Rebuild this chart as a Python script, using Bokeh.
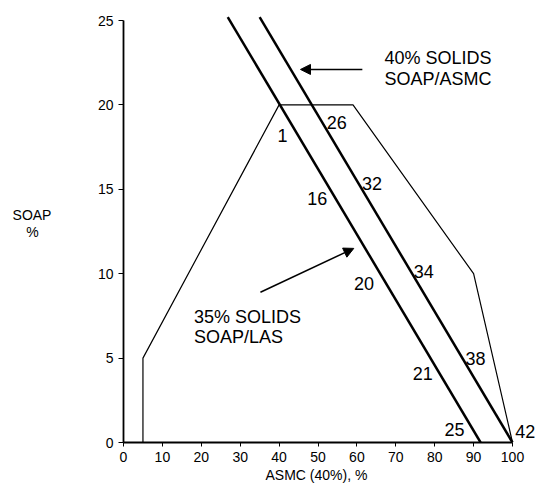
from bokeh.plotting import figure
from bokeh.layouts import row
from bokeh.models import Range1d, FixedTicker, Arrow, NormalHead, ColumnDataSource, Title
from bokeh.core.properties import value
from bokeh.embed import file_html
from bokeh.resources import INLINE

FONT = "Liberation Sans"

# Feasible region outline (ASMC %, SOAP %)
region_asmc = [5, 5, 40, 59, 90, 100]
region_soap = [0, 5, 20, 20, 10, 0]

# 35% solids SOAP/LAS line
las_asmc = [26.8, 91.8]
las_soap = [25.2, 0]

# 40% solids SOAP/ASMC line
asmc_asmc = [35.0, 100]
asmc_soap = [25.2, 0]

# point numbers along the lines
num_text = ["1", "16", "20", "21", "25", "26", "32", "34", "38", "42"]
num_x = [40.9, 49.8, 61.8, 76.9, 85.1, 54.8, 63.9, 77.2, 90.5, 103.3]
num_y = [18.2, 14.46, 9.4, 4.07, 0.75, 18.96, 15.36, 10.15, 5.0, 0.67]

# callout texts
call_text = ["40% SOLIDS", "SOAP/ASMC", "35% SOLIDS", "SOAP/LAS"]
call_x = [67.1, 67.1, 18.1, 18.1]
call_y = [22.8, 21.55, 7.46, 6.24]

# arrows (tail -> tip)
arrow_x0 = [61.4, 35.2]
arrow_y0 = [22.1, 8.9]
arrow_x1 = [45.5, 59.2]
arrow_y1 = [22.1, 11.5]

x_ticks = [0, 10, 20, 30, 40, 50, 60, 70, 80, 90, 100]
y_ticks = [0, 5, 10, 15, 20, 25]
x_title = "ASMC (40%), %"
y_title_lines = ["SOAP", "%"]

W, H = 536, 489
LW = 70                      # width of the y-title strip
LEFT, BOTTOM = 123, 47
XPU, YPU = 3.89, 16.88

yr = Range1d(0, (H - BOTTOM) / YPU)

# y-axis title strip (horizontal two-line title, centred lines), shares the SOAP scale
lab = figure(width=LW, height=H, output_backend="svg", toolbar_location=None,
             x_range=Range1d(0, LW), y_range=yr,
             min_border_left=0, min_border_right=0,
             min_border_top=0, min_border_bottom=BOTTOM)
lab.axis.visible = False
lab.grid.visible = False
lab.outline_line_color = None
lab.text(x=[31.5, 32], y=[13.5, 12.45], text=y_title_lines,
         text_font=value(FONT), text_font_size="14px", text_color="black",
         text_align="center", text_baseline="middle")

p = figure(width=W - LW, height=H, output_backend="svg", toolbar_location=None,
           x_range=Range1d(0, (W - LEFT) / XPU), y_range=yr,
           min_border_left=LEFT - LW, min_border_right=0, min_border_top=0,
           min_border_bottom=BOTTOM)
p.outline_line_color = None
p.grid.visible = False
p.background_fill_color = "white"

for ax, ticks, bnds in ((p.xaxis, x_ticks, (0, 100)), (p.yaxis, y_ticks, (0, 25))):
    ax.ticker = FixedTicker(ticks=ticks)
    ax.bounds = bnds
    ax.axis_line_color = "black"
    ax.axis_line_width = 1.8
    ax.major_tick_line_color = "black"
    ax.major_tick_line_width = 1
    ax.major_tick_in = 0
    ax.minor_tick_line_color = None
    ax.major_label_text_font = FONT
    ax.major_label_text_font_size = "14px"
    ax.major_label_text_color = "black"
p.xaxis.major_tick_out = 4
p.xaxis.major_label_standoff = 5
p.yaxis.major_tick_out = 5
p.yaxis.major_label_standoff = 5

p.add_layout(Title(text=x_title, align="left", offset=142, standoff=0,
                   text_font=FONT, text_font_size="14px", text_font_style="normal",
                   text_color="black"), "below")

p.line(region_asmc, region_soap, line_color="black", line_width=1.2)
p.line(las_asmc, las_soap, line_color="black", line_width=2.5)
p.line(asmc_asmc, asmc_soap, line_color="black", line_width=2.5)

p.text(x="x", y="y", text="t", source=ColumnDataSource(dict(x=num_x, y=num_y, t=num_text)),
       text_font=value(FONT), text_font_size="18px", text_color="black",
       text_align="center", text_baseline="middle")
p.text(x="x", y="y", text="t", source=ColumnDataSource(dict(x=call_x, y=call_y, t=call_text)),
       text_font=value(FONT), text_font_size="18px", text_color="black",
       text_align="left", text_baseline="middle")

for x0, y0, x1, y1 in zip(arrow_x0, arrow_y0, arrow_x1, arrow_y1):
    p.add_layout(Arrow(x_start=x0, y_start=y0, x_end=x1, y_end=y1,
                       line_color="black", line_width=1.5,
                       end=NormalHead(size=10, fill_color="black", line_color="black")))

layout = row(lab, p, spacing=0)
open("out.html", "w").write(file_html(layout, INLINE))
